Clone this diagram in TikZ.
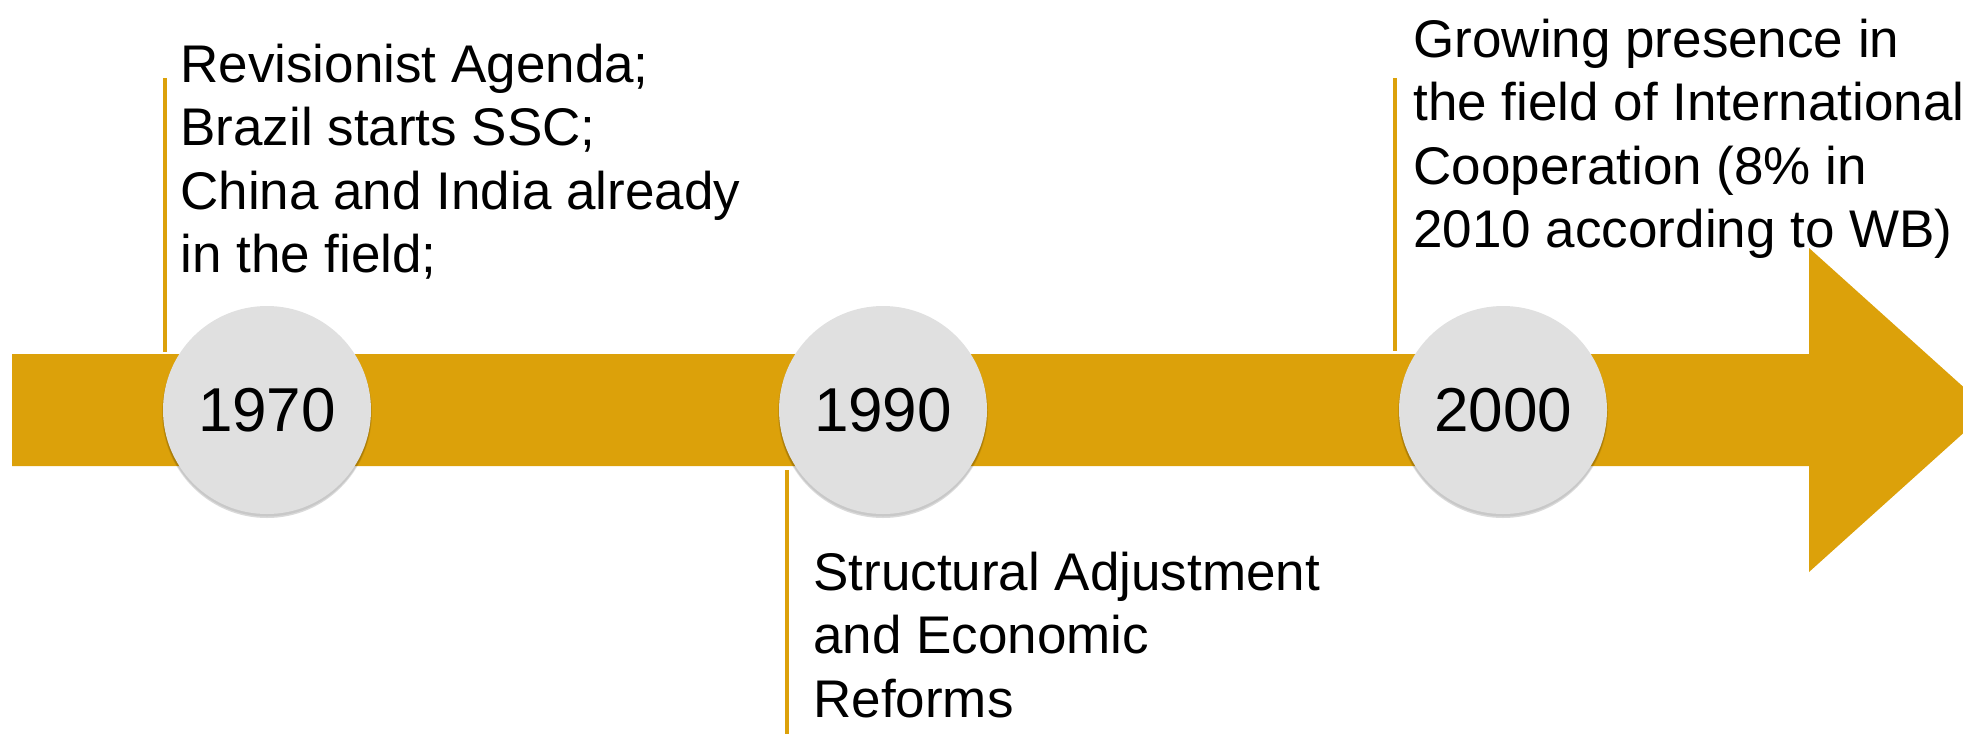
\documentclass[tikz,border=0pt]{standalone}
\usepackage{fontspec}
\setmainfont{Liberation Sans}
\definecolor{gold}{RGB}{220,161,10}
\definecolor{disc}{RGB}{224,224,224}
\begin{document}
\begin{tikzpicture}[x=0.5pt,y=-0.5pt,
  yearnode/.style={circle, fill=disc, minimum size=104pt, inner sep=0pt,
    font=\fontsize{31pt}{37pt}\selectfont},
  note/.style={anchor=base west, inner sep=0pt,
    font=\fontsize{26.5pt}{31.8pt}\selectfont},
  tick/.style={draw=gold, line width=2.2pt},
  shade/.style={fill=black, opacity=0.08}
]
\useasboundingbox (0,0) rectangle (1963,734);
\clip (0,0) rectangle (1963,734);
% timeline arrow
\fill[gold] (12,354) -- (1809,354) -- (1809,248) -- (1989,410) -- (1809,572)
  -- (1809,466) -- (12,466) -- cycle;
% shadows
\foreach \cx in {267,883,1503}{
  \fill[shade] (\cx,413) circle (105);
  \fill[shade] (\cx,412) circle (104.5);
  \fill[shade] (\cx,414) circle (104);
}
% year discs
\node[yearnode] (y1970) at (267,410) {\raisebox{-1.5pt}{1970}};
\node[yearnode] (y1990) at (883,410) {\raisebox{-1.5pt}{1990}};
\node[yearnode] (y2000) at (1503,410) {\raisebox{-1.5pt}{2000}};
% ticks
\coordinate (a1) at (165,78);  \coordinate (b1) at (165,352);
\coordinate (a2) at (787,470); \coordinate (b2) at (787,734);
\coordinate (a3) at (1395,78); \coordinate (b3) at (1395,351);
\draw[tick] (a1) -- (b1);
\draw[tick] (a2) -- (b2);
\draw[tick] (a3) -- (b3);
% notes
\node[note] (t1970) at (180,82) {\parbox[t]{320pt}{Revisionist Agenda;\\Brazil starts SSC;\\China and India already\\in the field;}};
\node[note] (t1990) at (813,590) {\parbox[t]{320pt}{Structural Adjustment\\and Economic\\Reforms}};
\node[note] (t2000) at (1413,57) {\parbox[t]{320pt}{Growing presence in\\the field of International\\Cooperation (8\% in\\2010 according to WB)}};
\end{tikzpicture}
\end{document}
